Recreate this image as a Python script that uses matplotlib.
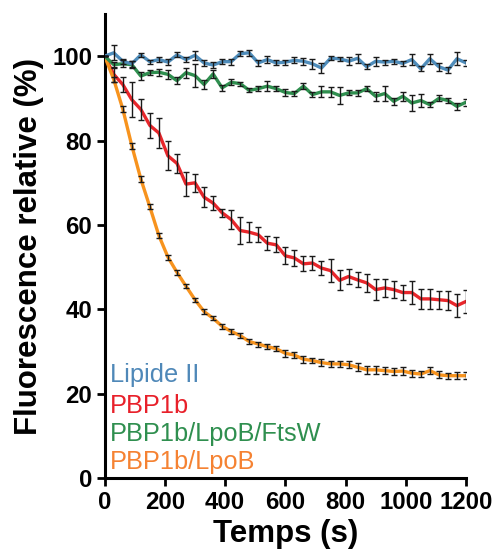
import matplotlib
matplotlib.use("Agg")
import matplotlib.pyplot as plt

plt.rcParams["font.family"] = ["Liberation Sans", "DejaVu Sans"]

# Sampling times (s)
time_s = [0, 30, 60, 90, 120, 150, 180, 210, 240, 270, 300, 330, 360, 390, 420,
          450, 480, 510, 540, 570, 600, 630, 660, 690, 720, 750, 780, 810, 840,
          870, 900, 930, 960, 990, 1020, 1050, 1080, 1110, 1140, 1170, 1200]

# Relative fluorescence (%) and standard deviations
lipide_ii = [100.0, 100.8, 98.8, 98.2, 100.3, 98.7, 99.2, 98.6, 100.3, 99.2,
             100.2, 98.4, 97.9, 98.7, 98.7, 100.6, 100.8, 98.4, 99.2, 98.4,
             98.6, 99.0, 98.8, 98.2, 97.2, 99.5, 99.4, 98.8, 99.5, 97.5,
             98.8, 98.6, 98.8, 98.3, 99.2, 97.0, 99.4, 97.5, 96.7, 99.4, 98.4]
lipide_ii_sd = [0, 1.8, 0.6, 0.7, 0.5, 0.5, 0.6, 0.7, 0.6, 0.6, 1.0, 0.8, 0.8,
                0.6, 0.7, 0.6, 0.7, 0.7, 0.8, 0.6, 0.6, 0.7, 0.8, 1.2, 1.2, 0.5,
                0.5, 0.9, 1.0, 0.6, 1.1, 0.6, 0.6, 0.6, 1.3, 0.6, 1.2, 0.9, 0.7,
                1.5, 0.8]

pbp1b = [100.0, 95.7, 93.3, 89.7, 87.4, 83.6, 81.8, 76.4, 74.6, 69.7, 70.0,
         66.6, 65.2, 62.9, 61.3, 58.7, 58.3, 57.7, 55.7, 55.3, 52.7, 52.2,
         50.8, 51.0, 49.8, 49.2, 46.9, 47.8, 47.0, 46.3, 44.7, 45.1, 44.7,
         44.0, 44.0, 42.5, 42.5, 42.3, 42.1, 40.9, 41.9]
pbp1b_sd = [0, 1.8, 1.8, 4.1, 2.5, 3.0, 3.6, 3.4, 2.3, 2.8, 2.1, 2.4, 1.7,
            0.9, 2.2, 3.1, 2.3, 1.8, 1.6, 1.8, 2.0, 2.0, 1.8, 1.7, 1.7, 2.7,
            2.4, 1.7, 1.8, 2.2, 2.5, 2.1, 2.0, 1.7, 2.8, 2.4, 2.3, 2.1, 2.2,
            2.8, 2.8]

pbp1b_lpob_ftsw = [100.0, 98.0, 98.2, 98.0, 95.3, 96.1, 96.2, 95.7, 94.2, 96.1,
                   95.4, 93.3, 95.8, 92.5, 93.8, 93.5, 91.9, 92.3, 92.9, 92.3,
                   91.4, 91.15, 92.9, 90.9, 91.55, 91.55, 90.7, 91.3, 91.3,
                   92.3, 90.5, 91.15, 89.3, 90.5, 88.9, 89.5, 88.5, 90.0, 89.5,
                   88.1, 89.1]
pbp1b_lpob_ftsw_sd = [0, 0.7, 0.8, 0.8, 0.9, 0.6, 0.8, 1.0, 0.8, 1.2, 2.8, 1.0,
                      1.0, 0.7, 0.7, 0.5, 0.5, 0.6, 1.2, 0.6, 0.8, 0.7, 0.7,
                      0.6, 1.3, 1.2, 2.0, 0.6, 0.7, 0.6, 1.1, 1.7, 0.9, 1.0,
                      2.0, 1.5, 0.6, 0.7, 0.6, 0.9, 0.8]

pbp1b_lpob = [100.0, 94.5, 87.5, 78.8, 70.9, 64.3, 57.5, 52.4, 48.8, 45.5,
              42.3, 39.5, 37.9, 36.0, 34.8, 33.8, 32.4, 31.8, 31.2, 30.7, 29.6,
              29.2, 28.2, 27.9, 27.4, 27.1, 27.1, 26.9, 26.3, 25.7, 25.7, 25.5,
              25.3, 25.4, 24.9, 24.7, 25.5, 24.5, 24.3, 24.3, 24.3]
pbp1b_lpob_sd = [0, 0.6, 0.8, 0.7, 0.7, 0.6, 0.5, 0.6, 0.6, 0.5, 0.5, 0.6,
                 0.5, 0.6, 0.6, 0.6, 0.6, 0.6, 0.6, 0.6, 0.8, 0.8, 0.8, 0.7,
                 0.8, 0.8, 0.8, 0.8, 0.9, 0.9, 0.9, 0.8, 0.8, 0.9, 0.8, 0.8,
                 0.8, 0.8, 0.7, 0.8, 0.8]

series_names = ["Lipide II", "PBP1b", "PBP1b/LpoB/FtsW", "PBP1b/LpoB"]
line_colors = ["#4f8dbb", "#e8262b", "#2f8f4f", "#f7931e"]
label_colors = ["#4f88b8", "#e8202a", "#2f8f4f", "#f58232"]

fig = plt.figure(figsize=(4.95, 5.59), dpi=100)
ax = fig.add_axes([0.2115, 0.1444, 0.7299, 0.8306])

values = [lipide_ii, pbp1b, pbp1b_lpob_ftsw, pbp1b_lpob]
errors = [lipide_ii_sd, pbp1b_sd, pbp1b_lpob_ftsw_sd, pbp1b_lpob_sd]
draw_order = [1, 3, 2, 0]
for z, i in enumerate(draw_order):
    ax.plot(time_s, values[i], color=line_colors[i], lw=2.4,
            solid_capstyle="round", solid_joinstyle="round", zorder=2 + z)
for i in range(4):
    ax.errorbar(time_s, values[i], yerr=errors[i], fmt="none", ecolor="#1a1a1a",
                elinewidth=1.0, capsize=2.2, capthick=1.0, zorder=10)

ax.set_xlim(0, 1200)
ax.set_ylim(0, 110)
ax.set_xticks([0, 200, 400, 600, 800, 1000, 1200])
ax.set_yticks([0, 20, 40, 60, 80, 100])

for side in ("top", "right"):
    ax.spines[side].set_visible(False)
for side in ("left", "bottom"):
    ax.spines[side].set_linewidth(2.2)
ax.tick_params(axis="both", direction="out", length=6, width=2.0,
               labelsize=17.3, pad=3)
for lbl in ax.get_xticklabels() + ax.get_yticklabels():
    lbl.set_fontweight("bold")

ax.set_xlabel("Temps (s)", fontsize=22.5, fontweight="bold", labelpad=4)
ax.set_ylabel("Fluorescence relative (%)", fontsize=22.5, fontweight="bold",
              labelpad=6)

legend_y = [0.2225, 0.156, 0.0954, 0.0358]
for name, color, yy in zip(series_names, label_colors, legend_y):
    ax.text(0.014, yy, name, transform=ax.transAxes, color=color,
            fontsize=18.3, va="center", ha="left")

fig.savefig("out.png", dpi=100)
